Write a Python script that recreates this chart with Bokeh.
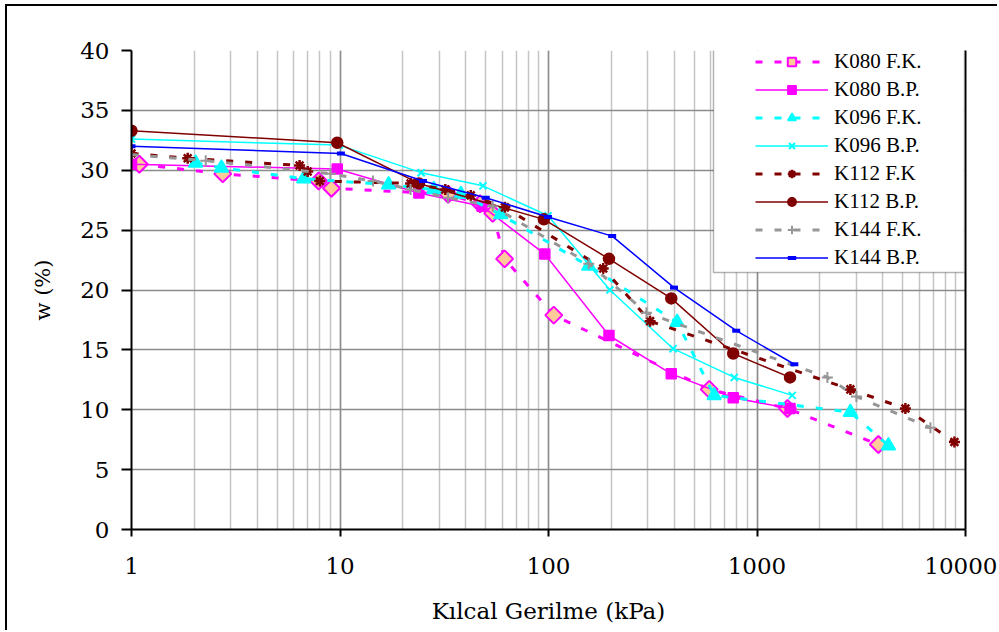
import numpy as np
from bokeh.plotting import figure
from bokeh.models import (Legend, LegendItem, BoxAnnotation, FixedTicker, LinearAxis,
                          BasicTickFormatter, Range1d)
from bokeh.embed import file_html
from bokeh.resources import INLINE

# ---------------- data ----------------
k080fk_x = [1.09, 2.74, 7.9, 9.1, 33, 47, 54, 61.6, 106, 590, 1400, 3820]
k080fk_y = [30.5, 29.7, 29.1, 28.5, 28.0, 27.2, 26.4, 22.6, 17.9, 11.7, 10.1, 7.1]

k080bp_x = [1, 9.7, 23.9, 48, 96, 195, 388, 769, 1440]
k080bp_y = [30.5, 30.1, 28.1, 27.0, 23.0, 16.2, 13.0, 11.0, 10.1]

k096fk_x = [2.03, 2.7, 6.7, 17.1, 28.2, 38, 59, 156, 414, 623, 2805, 4270]
k096fk_y = [30.6, 30.2, 29.3, 28.8, 28.4, 28.0, 26.3, 22.0, 17.3, 11.2, 9.8, 7.0]

k096bp_x = [1, 9.9, 24.5, 48.5, 99.5, 197, 396, 778, 1476]
k096bp_y = [32.6, 32.1, 29.8, 28.7, 26.2, 20.0, 15.1, 12.7, 11.2]

k112fk_x = [1, 1.86, 6.4, 7.0, 8.0, 21.8, 32, 42.4, 61.8, 183, 307, 2805, 5150, 8850]
k112fk_y = [31.4, 31.0, 30.4, 29.9, 29.1, 28.9, 28.4, 27.9, 26.9, 21.8, 17.4, 11.7, 10.1, 7.3]

k112bp_x = [1, 9.7, 23.9, 95, 195, 388, 769, 1440]
k112bp_y = [33.3, 32.3, 28.9, 25.9, 22.6, 19.3, 14.7, 12.7]

k144fk_x = [1, 2.27, 9.0, 14.4, 21.8, 33, 54, 156, 295, 2175, 2998, 6790]
k144fk_y = [31.3, 30.8, 29.7, 29.1, 28.4, 27.7, 27.0, 22.2, 18.1, 12.7, 11.1, 8.5]

k144bp_x = [1, 10.1, 25, 50, 99.5, 202, 400, 795, 1510]
k144bp_y = [32.0, 31.4, 29.1, 27.7, 26.1, 24.5, 20.2, 16.6, 13.8]

y_ticks = [0, 5, 10, 15, 20, 25, 30, 35, 40]

AXIS_FONT = "DejaVu Serif"
LEG_FONT = "serif"

# offsets of the outer chart border
OX, OY = 5, 4

p = figure(width=999 - OX - 2, height=632 - OY - 2, x_axis_type="log",
           x_range=Range1d(1, 10000), y_range=Range1d(0, 40),
           output_backend="svg", toolbar_location=None,
           min_border_left=131 - OX - 2, min_border_right=36 - 2,
           min_border_top=50 - OY - 2, min_border_bottom=105 - 2,
           background_fill_color="white", border_fill_color="white",
           styles={"border-left": "2px solid black", "border-top": "2px solid black",
                   "margin-left": f"{OX}px", "margin-top": f"{OY}px"})
p.outline_line_color = None

# axes
xa = p.xaxis[0]
xa.ticker.num_minor_ticks = 10
xa.formatter = BasicTickFormatter(use_scientific=False)
xa.axis_line_color = "black"
xa.axis_line_width = 2
xa.major_tick_line_width = 2
xa.major_tick_out = 7
xa.major_tick_in = 0
xa.minor_tick_out = 0
xa.minor_tick_in = 0
xa.major_label_text_font = AXIS_FONT
xa.major_label_text_font_size = "23px"
xa.major_label_text_color = "black"
xa.major_label_standoff = 21
xa.axis_label = "Kılcal Gerilme (kPa)"
xa.axis_label_text_font = AXIS_FONT
xa.axis_label_text_font_size = "23px"
xa.axis_label_text_font_style = "normal"
xa.axis_label_text_color = "black"
xa.axis_label_standoff = 21

ya = p.yaxis[0]
ya.ticker = FixedTicker(ticks=y_ticks)
ya.axis_line_color = "black"
ya.axis_line_width = 2
ya.major_tick_line_width = 2
ya.major_tick_out = 10
ya.major_tick_in = 0
ya.minor_tick_out = 0
ya.major_label_text_font = AXIS_FONT
ya.major_label_text_font_size = "23px"
ya.major_label_text_color = "black"
ya.major_label_standoff = 12
ya.axis_label = "w (%)"
ya.axis_label_text_font = AXIS_FONT
ya.axis_label_text_font_size = "21px"
ya.axis_label_text_font_style = "normal"
ya.axis_label_text_color = "black"
ya.axis_label_standoff = 22

ra = LinearAxis(ticker=FixedTicker(ticks=[]), major_tick_line_color=None,
                minor_tick_line_color=None, axis_line_color="black",
                axis_line_width=2)
p.add_layout(ra, "right")

# grids
p.xgrid.grid_line_color = "#8c8c8c"
p.xgrid.grid_line_width = 1.5
p.xgrid.minor_grid_line_color = "#c4c4c4"
p.xgrid.minor_grid_line_width = 1.5
p.ygrid.grid_line_color = "#8c8c8c"
p.ygrid.grid_line_width = 1.5

# series
items = []

def add(label, xs, ys, color, dash, lw, marker, size, fill, mlw=1.5, angle=0.0):
    lr = p.line(xs, ys, line_color=color, line_width=lw, line_dash=dash)
    sr = p.scatter(xs, ys, marker=marker, size=size, line_color=color,
                   fill_color=fill, line_width=mlw, angle=angle)
    items.append(LegendItem(label=label, renderers=[lr, sr]))

add("K080 F.K.", k080fk_x, k080fk_y, "#FF00FF", "7 12", 3, "square", 12, "#FFCC99", 2, np.pi / 4)
add("K080 B.P.", k080bp_x, k080bp_y, "#FF00FF", "solid", 1.5, "square", 10, "#FF00FF")
add("K096 F.K.", k096fk_x, k096fk_y, "#00FFFF", "7 12", 3, "triangle", 14, "#00FFFF")
add("K096 B.P.", k096bp_x, k096bp_y, "#00FFFF", "solid", 1.5, "x", 10, None, 2)
add("K112 F.K", k112fk_x, k112fk_y, "#800000", "7 12", 3, "asterisk", 11, None, 2.5)
add("K112 B.P.", k112bp_x, k112bp_y, "#800000", "solid", 1.5, "circle", 11, "#800000")
add("K144 F.K.", k144fk_x, k144fk_y, "#969696", "7 12", 3, "cross", 11, None, 2)
add("K144 B.P.", k144bp_x, k144bp_y, "#0000FF", "solid", 1.5, "dash", 8, None, 4)

# legend frame (drawn in canvas pixels)
legend_box = BoxAnnotation(left=711 - OX - 2, right=962 - OX - 2, top=45 - OY - 2,
                           bottom=270 - OY - 2,
                           left_units="canvas", right_units="canvas",
                           top_units="canvas", bottom_units="canvas",
                           fill_color="white", fill_alpha=1.0,
                           line_color="black", line_width=1.5)
p.add_layout(legend_box)

legend = Legend(items=items, location=(624, 259), orientation="vertical",
                label_text_font=LEG_FONT, label_text_font_size="21px",
                label_text_color="black",
                glyph_width=73, glyph_height=21, label_height=21,
                spacing=3, padding=0, margin=0, label_standoff=6,
                border_line_color=None, background_fill_alpha=0.0)
p.add_layout(legend)

open("out.html", "w").write(file_html(p, INLINE))
